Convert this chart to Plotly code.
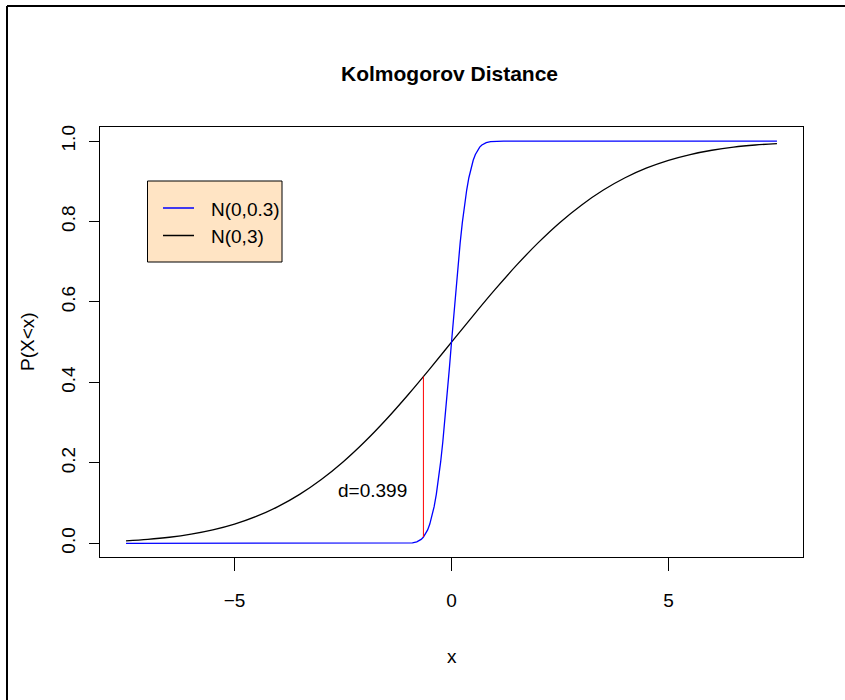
import plotly.graph_objects as go

# Cumulative probabilities P(X<x) for the narrow distribution N(0,0.3)
narrow_x = [-7.5, -1.5, -1.2, -1.05, -0.9, -0.8, -0.75, -0.7, -0.65, -0.6, -0.55, -0.5,
            -0.45, -0.4, -0.35, -0.3, -0.25, -0.2, -0.15, -0.1, -0.05, 0.0,
            0.05, 0.1, 0.15, 0.2, 0.25, 0.3, 0.35, 0.4, 0.45, 0.5, 0.55, 0.6,
            0.65, 0.7, 0.75, 0.8, 0.9, 1.05, 1.2, 1.5, 7.5]
narrow_p = [0.0, 0.0, 0.0, 0.0002, 0.0013, 0.0038, 0.0062, 0.0098, 0.0151, 0.0228, 0.0334, 0.0478,
            0.0668, 0.0912, 0.1217, 0.1587, 0.2023, 0.2525, 0.3085, 0.3694, 0.4338, 0.5,
            0.5662, 0.6306, 0.6915, 0.7475, 0.7977, 0.8413, 0.8783, 0.9088, 0.9332, 0.9522, 0.9666, 0.9772,
            0.9849, 0.9902, 0.9938, 0.9962, 0.9987, 0.9998, 1.0, 1.0, 1.0]

# Cumulative probabilities P(X<x) for the wide distribution N(0,3)
wide_x = [-7.5, -7.0, -6.5, -6.0, -5.5, -5.0, -4.5, -4.0, -3.5, -3.0, -2.5, -2.0, -1.5, -1.0, -0.5,
          0.0, 0.5, 1.0, 1.5, 2.0, 2.5, 3.0, 3.5, 4.0, 4.5, 5.0, 5.5, 6.0, 6.5, 7.0, 7.5]
wide_p = [0.0062, 0.0098, 0.0151, 0.0228, 0.0334, 0.0478, 0.0668, 0.0912, 0.1217, 0.1587, 0.2023,
          0.2525, 0.3085, 0.3694, 0.4338, 0.5, 0.5662, 0.6306, 0.6915, 0.7475, 0.7977, 0.8413,
          0.8783, 0.9088, 0.9332, 0.9522, 0.9666, 0.9772, 0.9849, 0.9902, 0.9938]

# Location of the largest gap between the two CDFs
gap_x = -0.647
gap_low = 0.0155
gap_high = 0.4146
gap_label_x = -1.81
gap_label_y = 0.131

x_ticks = [-5, 0, 5]
y_ticks = [0.0, 0.2, 0.4, 0.6, 0.8, 1.0]
legend_labels = ["N(0,0.3)", "N(0,3)"]
legend_colors = ["#0000FF", "#000000"]

FONT = "Liberation Sans Narrow, Arial Narrow, Liberation Sans, Arial, sans-serif"
TXT = 19

# plot-area geometry in pixels
W, H = 845, 700
L, R, T, B = 100, 803, 127, 557


def px(x):
    return (x - L) / (R - L)


def py(y):
    return (B - y) / (B - T)


fig = go.Figure()
fig.add_trace(go.Scatter(x=wide_x, y=wide_p, mode="lines", line=dict(color="#000000", width=1.3, shape="spline"),
                         showlegend=False, hoverinfo="skip"))
fig.add_trace(go.Scatter(x=narrow_x, y=narrow_p, mode="lines", line=dict(color="#0000FF", width=1.3),
                         showlegend=False, hoverinfo="skip"))
fig.add_trace(go.Scatter(x=[gap_x, gap_x], y=[gap_low, gap_high], mode="lines",
                         line=dict(color="#FF0000", width=1), showlegend=False, hoverinfo="skip"))

fig.add_annotation(x=gap_label_x, y=gap_label_y, xref="x", yref="y", text=f"d={gap_high - gap_low:.3f}",
                   showarrow=False, xanchor="center", yanchor="middle",
                   font=dict(family=FONT, size=TXT, color="black"))

shapes = []
# outer frame (left and top edges)
shapes.append(dict(type="line", xref="paper", yref="paper", x0=px(7), x1=px(7), y0=py(6), y1=py(700),
                   line=dict(color="black", width=2)))
shapes.append(dict(type="line", xref="paper", yref="paper", x0=px(7), x1=px(845), y0=py(6), y1=py(6),
                   line=dict(color="black", width=2)))
# legend box
shapes.append(dict(type="rect", xref="paper", yref="paper", x0=px(147.5), x1=px(282), y0=py(181), y1=py(262),
                   fillcolor="#FFE4C4", line=dict(color="black", width=1), layer="above"))
for i, (lab, col) in enumerate(zip(legend_labels, legend_colors)):
    yy = 208 + i * 27.5
    shapes.append(dict(type="line", xref="paper", yref="paper", x0=px(163), x1=px(194), y0=py(yy), y1=py(yy),
                       line=dict(color=col, width=1.5), layer="above"))
    fig.add_annotation(x=px(209), y=py(yy + 1), xref="paper", yref="paper", text=lab, showarrow=False,
                       xanchor="left", yanchor="middle", font=dict(family=FONT, size=TXT, color="black"))

# title and axis titles
fig.add_annotation(x=px(449), y=py(73), xref="paper", yref="paper", text="<b>Kolmogorov Distance</b>",
                   showarrow=False, xanchor="center", yanchor="middle",
                   font=dict(family=FONT, size=21, color="black"))
fig.add_annotation(x=px(451.5), y=py(656), xref="paper", yref="paper", text="x",
                   showarrow=False, xanchor="center", yanchor="middle",
                   font=dict(family=FONT, size=TXT, color="black"))
fig.add_annotation(x=px(27), y=py(342), xref="paper", yref="paper", text="P(X<x)", textangle=-90,
                   showarrow=False, xanchor="center", yanchor="middle",
                   font=dict(family=FONT, size=TXT, color="black"))

fig.update_layout(
    width=W, height=H,
    margin=dict(l=L, r=W - R, t=T, b=H - B, pad=0),
    paper_bgcolor="white", plot_bgcolor="white",
    shapes=shapes,
    font=dict(family=FONT, size=TXT, color="black"),
)
fig.update_xaxes(range=[-8.1, 8.1], tickvals=x_ticks, ticktext=["\u22125", "0", "5"],
                 showgrid=False, zeroline=False, showline=True, mirror=True, linecolor="black", linewidth=1,
                 ticks="outside", ticklen=13, tickcolor="black", ticklabelstandoff=13,
                 tickfont=dict(family=FONT, size=TXT, color="black"))
fig.update_yaxes(range=[-0.034, 1.035], tickvals=y_ticks, ticktext=[f"{v:.1f}" for v in y_ticks],
                 tickangle=-90, showgrid=False, zeroline=False, showline=True, mirror=True,
                 linecolor="black", linewidth=1, ticks="outside", ticklen=10, tickcolor="black",
                 ticklabelstandoff=6, tickfont=dict(family=FONT, size=TXT, color="black"))

fig.write_html("out.html", config={"displayModeBar": False})
